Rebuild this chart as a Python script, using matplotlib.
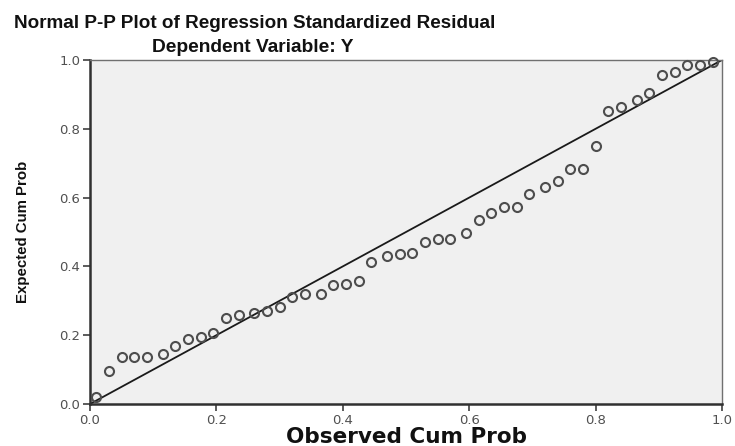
import matplotlib
matplotlib.use("Agg")
import matplotlib.pyplot as plt

title = "Normal P-P Plot of Regression Standardized Residual"
subtitle = "Dependent Variable: Y"
xlabel = "Observed Cum Prob"
ylabel = "Expected Cum Prob"
tick_values = [0.0, 0.2, 0.4, 0.6, 0.8, 1.0]
tick_labels = ["0.0", "0.2", "0.4", "0.6", "0.8", "1.0"]

observed = [0.01, 0.03, 0.05, 0.07, 0.09, 0.115, 0.135, 0.155, 0.175, 0.195,
            0.215, 0.235, 0.26, 0.28, 0.30, 0.32, 0.34, 0.365, 0.385, 0.405,
            0.425, 0.445, 0.47, 0.49, 0.51, 0.53, 0.55, 0.57, 0.595, 0.615,
            0.635, 0.655, 0.675, 0.695, 0.72, 0.74, 0.76, 0.78, 0.80, 0.82,
            0.84, 0.865, 0.885, 0.905, 0.925, 0.945, 0.965, 0.985]
expected = [0.02, 0.096, 0.137, 0.137, 0.137, 0.145, 0.169, 0.189, 0.195, 0.206,
            0.25, 0.259, 0.265, 0.27, 0.282, 0.311, 0.32, 0.32, 0.346, 0.349,
            0.358, 0.413, 0.43, 0.436, 0.439, 0.471, 0.48, 0.48, 0.497, 0.535,
            0.555, 0.573, 0.573, 0.61, 0.631, 0.648, 0.683, 0.683, 0.75, 0.852,
            0.863, 0.884, 0.904, 0.956, 0.965, 0.985, 0.985, 0.994]

plt.rcParams['font.family'] = ['Liberation Sans', 'DejaVu Sans']

fig = plt.figure(figsize=(7.35, 4.46), dpi=100)
ax = fig.add_axes([90/735, 1-404/446, 632/735, 344/446])
ax.set_facecolor('#f0f0f0')

ax.plot([0, 1], [0, 1], color='#1a1a1a', lw=1.3, zorder=2)
ax.plot(observed, expected, linestyle='none', marker='o', markersize=6.5,
        markerfacecolor='none', markeredgecolor='#4d4d4d', markeredgewidth=1.5,
        zorder=3, clip_on=False)

ax.set_xlim(0, 1)
ax.set_ylim(0, 1)
ax.set_xticks(tick_values)
ax.set_xticklabels(tick_labels)
ax.set_yticks(tick_values)
ax.set_yticklabels(tick_labels)
ax.tick_params(direction='out', length=5, width=1.2, color='#404040',
               labelsize=9.5, labelcolor='#505050', pad=2)
for lab in ax.get_xticklabels() + ax.get_yticklabels():
    lab.set_family(['DejaVu Sans'])

for side in ['left', 'bottom']:
    ax.spines[side].set_linewidth(1.8)
    ax.spines[side].set_color('#303030')
for side in ['top', 'right']:
    ax.spines[side].set_linewidth(1.0)
    ax.spines[side].set_color('#707070')

fig.text(406/735, 1-437/446, xlabel, ha='center', va='center', fontsize=15.5,
         fontweight='bold', color='#111111', family=['DejaVu Sans'])
ax.set_ylabel(ylabel, fontsize=10.8, fontweight='bold', color='#111111',
              family=['Liberation Sans', 'DejaVu Sans'])
ax.yaxis.set_label_coords((30-90)/632, 0.5)

fig.text(255/735, 1-23/446, title, ha='center', va='center', fontsize=13.6,
         fontweight='bold', color='#111111')
fig.text(253/735, 1-47/446, subtitle, ha='center', va='center', fontsize=13.8,
         fontweight='bold', color='#111111')

fig.savefig('out.png', dpi=100)
